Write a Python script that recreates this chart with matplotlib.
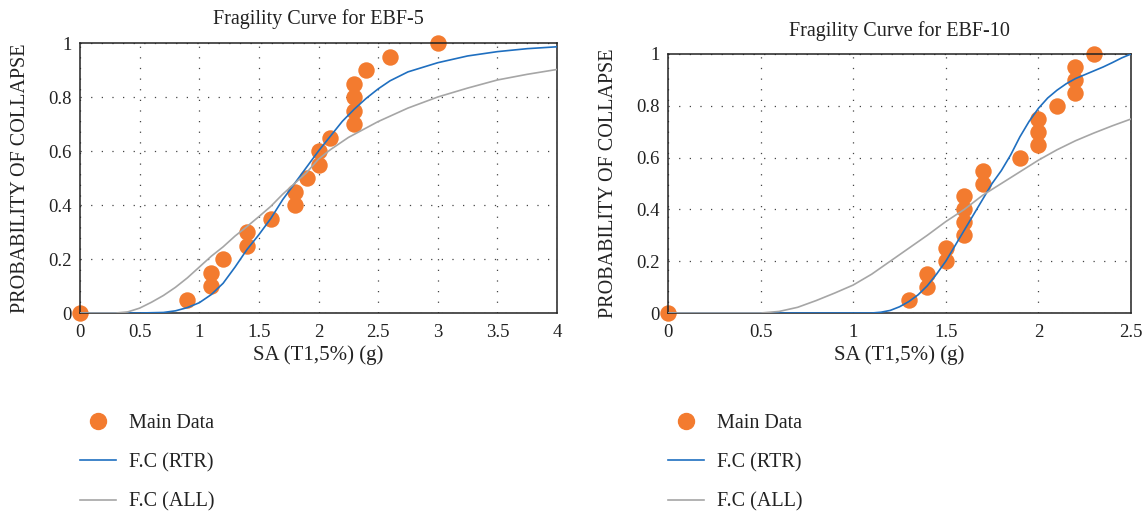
import numpy as np
import matplotlib
matplotlib.use("Agg")
import matplotlib.pyplot as plt
from matplotlib.lines import Line2D

plt.rcParams['font.family'] = ['Liberation Serif', 'DejaVu Serif']

# EBF-5 data
ebf5_x = [0, 0.9, 1.1, 1.1, 1.2, 1.4, 1.4, 1.6, 1.8, 1.8, 1.9, 2.0, 2.0, 2.1,
          2.3, 2.3, 2.3, 2.3, 2.4, 2.6, 3.0]
ebf5_y = [0, 0.05, 0.1, 0.15, 0.2, 0.25, 0.3, 0.35, 0.4, 0.45, 0.5, 0.55, 0.6,
          0.65, 0.7, 0.75, 0.8, 0.85, 0.9, 0.95, 1.0]

ebf5_rtr_x = [0, 0.5, 0.7, 0.8, 0.9, 1.0, 1.1, 1.2, 1.3, 1.4, 1.5, 1.6, 1.7, 1.8,
              1.9, 2.0, 2.1, 2.2, 2.3, 2.4, 2.5, 2.6, 2.75, 3.0, 3.25, 3.5, 3.75, 4.0]
ebf5_rtr_y = [0, 0, 0.002, 0.008, 0.02, 0.038, 0.068, 0.11, 0.17, 0.235, 0.29,
              0.35, 0.42, 0.48, 0.54, 0.60, 0.655, 0.71, 0.755, 0.795, 0.83,
              0.86, 0.893, 0.927, 0.952, 0.968, 0.979, 0.986]

ebf5_all_x = [0, 0.3, 0.4, 0.5, 0.6, 0.7, 0.8, 0.9, 1.0, 1.1, 1.2, 1.3, 1.4, 1.5,
              1.6, 1.7, 1.8, 1.9, 2.0, 2.1, 2.25, 2.5, 2.75, 3.0, 3.25, 3.5, 3.75, 4.0]
ebf5_all_y = [0, 0, 0.004, 0.018, 0.04, 0.065, 0.095, 0.13, 0.17, 0.21, 0.245,
              0.285, 0.32, 0.357, 0.395, 0.44, 0.48, 0.52, 0.57, 0.605, 0.65,
              0.709, 0.759, 0.80, 0.833, 0.863, 0.884, 0.902]

# EBF-10 data
ebf10_x = [0, 1.3, 1.4, 1.4, 1.5, 1.5, 1.6, 1.6, 1.6, 1.6, 1.7, 1.7, 1.9, 2.0,
           2.0, 2.0, 2.1, 2.2, 2.2, 2.2, 2.3]
ebf10_y = [0, 0.05, 0.1, 0.15, 0.2, 0.25, 0.3, 0.35, 0.4, 0.45, 0.5, 0.55, 0.6,
           0.65, 0.7, 0.75, 0.8, 0.85, 0.9, 0.95, 1.0]

ebf10_rtr_x = [0, 1.1, 1.15, 1.2, 1.25, 1.3, 1.35, 1.4, 1.45, 1.5, 1.55, 1.6, 1.65,
               1.7, 1.75, 1.8, 1.85, 1.9, 1.95, 2.0, 2.05, 2.1, 2.15, 2.2, 2.25,
               2.3, 2.35, 2.4, 2.45, 2.5]
ebf10_rtr_y = [0, 0, 0.003, 0.01, 0.024, 0.044, 0.07, 0.105, 0.15, 0.2, 0.26,
               0.32, 0.38, 0.44, 0.5, 0.55, 0.61, 0.68, 0.74, 0.79, 0.83, 0.86,
               0.885, 0.905, 0.92, 0.935, 0.95, 0.967, 0.985, 1.0]

ebf10_all_x = [0, 0.5, 0.6, 0.7, 0.8, 0.9, 1.0, 1.1, 1.2, 1.3, 1.4, 1.5, 1.6, 1.7,
               1.8, 1.9, 2.0, 2.1, 2.2, 2.3, 2.4, 2.5]
ebf10_all_y = [0, 0, 0.006, 0.022, 0.048, 0.077, 0.108, 0.15, 0.20, 0.25, 0.30,
               0.353, 0.40, 0.455, 0.50, 0.545, 0.59, 0.63, 0.665, 0.695, 0.723,
               0.749]

ORANGE = '#F37B2F'
BLUE = '#1F6FC0'
GRAY = '#A6A6A6'

fig = plt.figure(figsize=(11.47, 5.13), dpi=100)
W, H = 1147, 513


def make_ax(l, r, b, t):
    return fig.add_axes([l / W, 1 - b / H, (r - l) / W, (b - t) / H])


def style(ax, xmax, xticks, title, title_pad):
    ax.set_xlim(0, xmax)
    ax.set_ylim(0, 1)
    ax.set_xticks(xticks)
    ax.set_xticklabels([f"{v:g}" for v in xticks])
    ax.set_yticks([0, 0.2, 0.4, 0.6, 0.8, 1])
    ax.set_yticklabels(['0', '0.2', '0.4', '0.6', '0.8', '1'])
    ax.tick_params(length=0, labelsize=13.5, pad=6, colors='#222')
    ax.tick_params(axis='x', pad=8)
    ax.grid(True, color='#444', linestyle=(0, (1, 7.5)), linewidth=0.9)
    for s in ax.spines.values():
        s.set_color('#222')
        s.set_linewidth(1.1)
    ax.set_title(title, fontsize=14.5, pad=title_pad, color='#222')
    ax.set_xlabel('SA (T1,5%) (g)', fontsize=15, labelpad=3, color='#222')
    ax.set_ylabel('PROBABILITY OF COLLAPSE', fontsize=14.5, labelpad=13, color='#222')


ax1 = make_ax(80, 557, 313, 43)
ax1.scatter(ebf5_x, ebf5_y, s=140, color=ORANGE, zorder=2, clip_on=False, linewidths=0)
ax1.plot(ebf5_rtr_x, ebf5_rtr_y, color=BLUE, lw=1.2, zorder=3)
ax1.plot(ebf5_all_x, ebf5_all_y, color=GRAY, lw=1.2, zorder=3)
style(ax1, 4, [0, 0.5, 1, 1.5, 2, 2.5, 3, 3.5, 4], 'Fragility Curve for EBF-5', 14)

ax2 = make_ax(668, 1131, 313, 54)
ax2.scatter(ebf10_x, ebf10_y, s=140, color=ORANGE, zorder=2, clip_on=False, linewidths=0)
ax2.plot(ebf10_rtr_x, ebf10_rtr_y, color=BLUE, lw=1.2, zorder=3)
ax2.plot(ebf10_all_x, ebf10_all_y, color=GRAY, lw=1.2, zorder=3)
style(ax2, 2.5, [0, 0.5, 1, 1.5, 2, 2.5], 'Fragility Curve for EBF-10', 13)

handles = [
    Line2D([], [], marker='o', linestyle='none', color=ORANGE, markersize=11.5),
    Line2D([], [], color=BLUE, lw=1.2),
    Line2D([], [], color=GRAY, lw=1.2),
]
labels = ['Main Data', 'F.C (RTR)', 'F.C (ALL)']
for lx in (80, 668):
    fig.legend(handles, labels, loc='upper left', bbox_to_anchor=(lx / W, 1 - 414 / H),
               frameon=False, fontsize=14.5, handlelength=1.8, handletextpad=0.65,
               labelspacing=1.0, borderpad=0, borderaxespad=0, labelcolor='#222')

fig.savefig('out.png', dpi=100)
